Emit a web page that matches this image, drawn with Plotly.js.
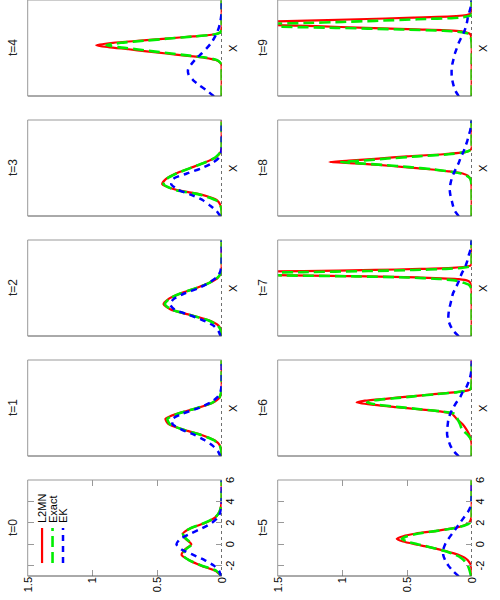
<!DOCTYPE html>
<html>
<head>
<meta charset="utf-8">
<script src="https://cdn.plot.ly/plotly-3.0.1.min.js"></script>
<style>
body { margin: 0; overflow: hidden; background: #fff; }
#wrap {
    position: absolute; left: 0; top: 0;
    width: 600px; height: 500px;
    transform-origin: 0 0;
    transform: translateY(600px) rotate(-90deg);
}
</style>
</head>
<body>
<div id="wrap"><div id="plot" style="width:600px;height:500px;"></div></div>
<script>
// panel titles and legend names
var times = ['t=0', 't=1', 't=2', 't=3', 't=4', 't=5', 't=6', 't=7', 't=8', 't=9'];
var names = ['L2MN', 'Exact', 'EK'];

// x grids
var xGrid = [-3, -2.5, -2, -1.5, -1, -0.5, 0, 0.5, 1, 1.5, 2, 2.5, 3, 3.5, 4, 4.5, 5, 5.5, 6];
var xT4 = [-3, -2, -1, 0, 0.2, 0.4, 0.6, 0.8, 1.0, 1.2, 1.4, 1.6, 1.78, 2.0, 2.2, 2.4, 2.6, 2.8, 3.0, 3.5, 4, 5, 6];
var xT5 = [-3, -2.5, -2, -1.5, -1.25, -1, -0.75, -0.5, -0.25, 0, 0.25, 0.5, 0.75, 1, 1.25, 1.5, 1.75, 2, 2.5, 3, 4, 5, 6];
var xT6 = [-3, -2, -1.5, -1, -0.5, 0, 0.5, 0.8, 1.0, 1.2, 1.4, 1.6, 1.8, 2.03, 2.2, 2.4, 2.6, 2.8, 3.0, 3.2, 3.4, 4, 5, 6];
var xT7 = [-3, -1, 0, 1, 1.5, 1.8, 2.0, 2.2, 2.35, 2.5, 2.6, 2.7, 2.8, 2.9, 3.0, 3.1, 3.2, 3.3, 3.4, 3.5, 3.6, 3.8, 4, 5, 6];
var xT8 = [-3, -1, 0, 0.5, 0.8, 1.0, 1.2, 1.4, 1.6, 1.8, 1.95, 2.08, 2.2, 2.4, 2.6, 2.8, 3.0, 3.2, 3.4, 4, 5, 6];
var xT9 = [-3, 0, 2, 2.8, 3.0, 3.12, 3.25, 3.4, 3.55, 3.7, 3.8, 3.85, 3.95, 4.05, 4.2, 4.35, 4.5, 4.6, 4.7, 4.9, 6];

// L2MN
var l2mn0 = [0, .045, .16, .25, .31, .285, .235, .28, .30, .24, .125, .05, .018, .006, .001, 0, 0, 0, 0];
var l2mn1 = [0, .003, .013, .055, .155, .30, .41, .435, .34, .19, .07, .015, .003, 0, 0, 0, 0, 0, 0];
var l2mn2 = [0, .004, .025, .10, .245, .395, .45, .41, .32, .20, .095, .028, .005, 0, 0, 0, 0, 0, 0];
var l2mn3 = [0, 0, .008, .035, .15, .36, .46, .43, .355, .245, .135, .045, .008, 0, 0, 0, 0, 0, 0];
var l2mn4 = [0, 0, 0, .003, .015, .045, .13, .28, .43, .58, .72, .876, .97, .84, .63, .43, .22, .05, .008, 0, 0, 0, 0];
var l2mn5 = [0, .001, .005, .03, .055, .10, .17, .245, .335, .44, .53, .58, .53, .43, .27, .14, .06, .02, .002, 0, 0, 0, 0];
var l2mn6 = [0, 0, .005, .018, .04, .07, .116, .137, .155, .25, .415, .585, .75, .89, .825, .65, .47, .30, .12, .02, .004, 0, 0, 0];
var l2mn7 = [0, 0, 0, 0, .002, .005, .01, .03, .1, .42, .8, 1.4, 2.0, 2.3, 1.9, 1.3, .75, .4, .15, .05, .01, 0, 0, 0, 0];
var l2mn8 = [0, 0, .002, .01, .03, .07, .18, .33, .52, .72, .9, 1.1, .95, .72, .5, .22, .05, .01, 0, 0, 0, 0];
var l2mn9 = [0, 0, 0, .01, .05, .12, .43, .82, 1.2, 1.7, 2.1, 2.2, 1.7, 1.35, .88, .45, .12, .04, .01, 0, 0];

// Exact
var exact0 = [0, .04, .155, .25, .305, .28, .23, .275, .30, .24, .13, .05, .018, .006, .001, 0, 0, 0, 0];
var exact1 = [0, .003, .015, .06, .16, .30, .40, .42, .335, .195, .075, .018, .004, 0, 0, 0, 0, 0, 0];
var exact2 = [0, .005, .03, .105, .245, .39, .44, .405, .32, .20, .095, .03, .006, 0, 0, 0, 0, 0, 0];
var exact3 = [0, 0, .01, .045, .16, .37, .45, .425, .35, .245, .135, .05, .01, 0, 0, 0, 0, 0, 0];
var exact4 = [0, 0, 0, .003, .015, .04, .115, .25, .39, .53, .66, .80, .89, .78, .59, .41, .21, .05, .008, 0, 0, 0, 0];
var exact5 = [.005, .015, .03, .06, .085, .125, .18, .25, .33, .42, .50, .54, .50, .41, .27, .14, .055, .015, 0, 0, 0, 0, 0];
var exact6 = [0, 0, .003, .03, .075, .09, .11, .12, .14, .24, .40, .56, .71, .81, .77, .62, .45, .28, .11, .02, .004, 0, 0, 0];
var exact7 = [0, 0, 0, .002, .005, .02, .06, .12, .24, .5, .9, 1.5, 1.9, 1.8, 1.3, .8, .45, .2, .07, .02, 0, 0, 0, 0, 0];
var exact8 = [0, 0, .002, .01, .04, .08, .18, .31, .48, .68, .87, 1.01, .85, .65, .42, .18, .05, .01, 0, 0, 0, 0];
var exact9 = [0, 0, 0, .015, .08, .22, .55, 1.05, 1.65, 1.9, 1.5, 1.3, 1.0, .75, .42, .1, .02, 0, 0, 0, 0];

// EK (all on xGrid)
var ek0 = [.005, .02, .06, .13, .22, .31, .35, .32, .24, .15, .075, .03, .01, .003, 0, 0, 0, 0, 0];
var ek1 = [.01, .03, .07, .13, .21, .31, .38, .38, .30, .18, .09, .035, .01, .002, 0, 0, 0, 0, 0];
var ek2 = [.008, .025, .064, .145, .25, .365, .40, .37, .29, .18, .10, .04, .012, .003, 0, 0, 0, 0, 0];
var ek3 = [.01, .04, .09, .145, .235, .34, .39, .375, .27, .155, .07, .02, .004, 0, 0, 0, 0, 0, 0];
var ek4 = [.06, .11, .17, .22, .255, .26, .235, .20, .155, .115, .08, .055, .035, .02, .01, .004, 0, 0, 0];
var ek5 = [.10, .145, .18, .205, .22, .22, .205, .18, .15, .12, .09, .06, .03, .01, .002, 0, 0, 0, 0];
var ek6 = [.10, .14, .165, .18, .19, .19, .185, .18, .165, .145, .12, .09, .07, .04, .022, .01, .003, 0, 0];
var ek7 = [.10, .14, .165, .18, .18, .175, .165, .155, .145, .125, .105, .09, .072, .05, .035, .025, .012, .004, 0];
var ek8 = [.10, .13, .145, .155, .165, .17, .165, .155, .14, .12, .10, .085, .065, .05, .035, .025, .012, .004, 0];
var ek9 = [.10, .125, .14, .15, .155, .155, .15, .14, .13, .115, .10, .08, .06, .045, .035, .028, .015, .005, 0];

var xTicks = [-2, 0, 2, 4, 6];
var xTickText = ['-2', '0', '2', '4', '6'];
var yTicks = [0, 0.5, 1, 1.5];
var yTickText = ['0', '0.5', '1', '1.5'];

var lineX = [xGrid, xGrid, xGrid, xGrid, xT4, xT5, xT6, xT7, xT8, xT9];
var l2mn = [l2mn0, l2mn1, l2mn2, l2mn3, l2mn4, l2mn5, l2mn6, l2mn7, l2mn8, l2mn9];
var exact = [exact0, exact1, exact2, exact3, exact4, exact5, exact6, exact7, exact8, exact9];
var ek = [ek0, ek1, ek2, ek3, ek4, ek5, ek6, ek7, ek8, ek9];

var fontFam = 'Liberation Sans, Arial, sans-serif';
var red = { color: '#ff0000', width: 2.2, shape: 'spline', smoothing: 0.6 };
var green = { color: '#00ee00', width: 2.6, dash: '11px,5px', shape: 'spline', smoothing: 0.6 };
var blue = { color: '#0000ff', width: 2.5, dash: '6px,5px', shape: 'spline', smoothing: 0.6 };

var data = [];
var shapes = [];
var annotations = [];
var layout = {
    width: 600,
    height: 500,
    margin: { t: 0, b: 0, l: 0, r: 0 },
    paper_bgcolor: '#fff',
    plot_bgcolor: '#fff',
    showlegend: false,
    font: { family: fontFam, size: 11, color: '#000' }
};

for (var i = 0; i < 10; i++) {
    var n = (i === 0) ? '' : String(i + 1);
    var col = i % 5;
    var row = Math.floor(i / 5);
    var first = (col === 0);
    var yDom = (row === 0) ? [0.5566, 0.9446] : [0.0566, 0.4446];

    layout['xaxis' + n] = {
        domain: [(24 + 120 * col) / 600, (120 + 120 * col) / 600],
        anchor: 'y' + n,
        range: [-2.97, 6.0],
        showgrid: false, zeroline: false, showline: false,
        tickvals: xTicks, ticktext: xTickText,
        ticks: first ? 'inside' : '',
        mirror: first ? 'ticks' : false,
        ticklen: 6, tickcolor: '#999',
        showticklabels: first,
        tickfont: { size: 11 }
    };
    layout['yaxis' + n] = {
        domain: yDom,
        anchor: 'x' + n,
        range: [0, 1.5],
        showgrid: false, zeroline: false, showline: false,
        tickvals: yTicks, ticktext: yTickText,
        ticks: first ? 'inside' : '',
        mirror: first ? 'ticks' : false,
        ticklen: 6, tickcolor: '#999',
        showticklabels: first,
        tickfont: { size: 11 }
    };

    data.push({ x: lineX[i], y: l2mn[i], type: 'scatter', mode: 'lines', name: names[0],
        xaxis: 'x' + n, yaxis: 'y' + n, line: red, hoverinfo: 'skip' });
    data.push({ x: lineX[i], y: exact[i], type: 'scatter', mode: 'lines', name: names[1],
        xaxis: 'x' + n, yaxis: 'y' + n, line: green, hoverinfo: 'skip' });
    data.push({ x: xGrid, y: ek[i], type: 'scatter', mode: 'lines', name: names[2],
        xaxis: 'x' + n, yaxis: 'y' + n, line: blue, hoverinfo: 'skip' });

    var xd = 'x' + n + ' domain';
    var yd = 'y' + n + ' domain';
    // dotted zero line
    shapes.push({ type: 'line', layer: 'below', xref: xd, yref: 'y' + n, x0: 0, x1: 1, y0: 0, y1: 0,
        line: { color: '#000', width: 1, dash: 'dot' } });
    // frame on three sides
    shapes.push({ type: 'line', xref: xd, yref: yd, x0: 0, x1: 0, y0: 0, y1: 1, line: { color: '#555', width: 1 } });
    shapes.push({ type: 'line', xref: xd, yref: yd, x0: 0, x1: 1, y0: 1, y1: 1, line: { color: '#999', width: 1 } });
    shapes.push({ type: 'line', xref: xd, yref: yd, x0: 1, x1: 1, y0: 0, y1: 1, line: { color: '#999', width: 1 } });

    annotations.push({ text: times[i], xref: xd, yref: yd, x: 0.5, y: 1, yshift: 15,
        xanchor: 'center', yanchor: 'middle', showarrow: false, font: { size: 12, color: '#222' } });
    if (!first) {
        annotations.push({ text: 'X', xref: xd, yref: yd, x: 0.5, y: 0, yshift: -11,
            xanchor: 'center', yanchor: 'middle', showarrow: false, font: { size: 11, color: '#000' } });
    }
}

// legend drawn inside the t=0 panel
var legLines = [red, green, blue];
var legY = [0.926, 0.872, 0.818];
for (var k = 0; k < 3; k++) {
    shapes.push({ type: 'line', xref: 'x domain', yref: 'y domain', x0: 0.135, x1: 0.5, y0: legY[k], y1: legY[k],
        line: { color: legLines[k].color, width: legLines[k].width, dash: legLines[k].dash || 'solid' } });
    annotations.push({ text: names[k], xref: 'x domain', yref: 'y domain', x: 0.53, y: legY[k],
        xanchor: 'left', yanchor: 'middle', showarrow: false, font: { size: 11, color: '#000' } });
}

layout.shapes = shapes;
layout.annotations = annotations;

Plotly.newPlot('plot', data, layout, { displayModeBar: false, staticPlot: true });
</script>
</body>
</html>
